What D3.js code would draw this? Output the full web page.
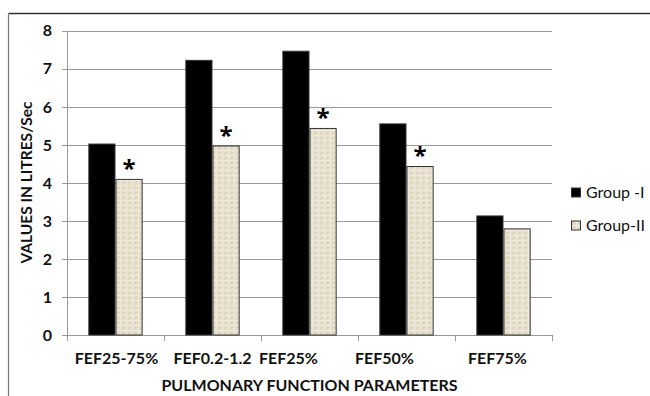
<!DOCTYPE html>
<html><head><meta charset="utf-8">
<script src="https://cdn.jsdelivr.net/npm/d3@7"></script>
<style>body{margin:0;background:#fff}svg{display:block}text{font-family:Lato,"Open Sans",sans-serif;font-weight:700;fill:#111}</style>
</head><body>
<script>
const categories = ["FEF25-75%", "FEF0.2-1.2", "FEF25%", "FEF50%", "FEF75%"];
const groupI = [5.02, 7.22, 7.46, 5.55, 3.13];
const groupII = [4.09, 4.97, 5.43, 4.43, 2.79];
const significant = [true, true, true, true, false];
const seriesNames = ["Group -I", "Group-II"];
const yTicks = [0, 1, 2, 3, 4, 5, 6, 7, 8];

const W = 650, H = 396;
const svg = d3.select("body").append("svg").attr("width", W).attr("height", H);

const defs = svg.append("defs");
const pat = defs.append("pattern").attr("id", "tex").attr("patternUnits", "userSpaceOnUse")
  .attr("width", 6).attr("height", 5);
pat.append("rect").attr("width", 6).attr("height", 5).attr("fill", "#e6dfcb");
pat.append("rect").attr("x", 0).attr("y", 0).attr("width", 6).attr("height", 1).attr("fill", "#efe9dc");
pat.append("rect").attr("x", 0).attr("y", 0).attr("width", 1).attr("height", 5).attr("fill", "#efe9dc");
pat.append("rect").attr("x", 3).attr("y", 2).attr("width", 2).attr("height", 1).attr("fill", "#d6ccb3");
pat.append("rect").attr("x", 2).attr("y", 3).attr("width", 1).attr("height", 2).attr("fill", "#dbd2bb");

// outer frame
svg.append("line").attr("x1", 8.5).attr("x2", W).attr("y1", 13.5).attr("y2", 13.5).attr("stroke", "#333").attr("stroke-width", 1.5);
svg.append("line").attr("x1", 8.5).attr("x2", 8.5).attr("y1", 13.5).attr("y2", H).attr("stroke", "#777").attr("stroke-width", 1.2);

const m = {left: 67, right: 552, top: 30.7, bottom: 335};
const x = d3.scaleBand().domain(categories).range([m.left, m.right]).paddingInner(0.44).paddingOuter(0.22);
const xs = d3.scaleBand().domain([0, 1]).range([0, x.bandwidth()]);
const y = d3.scaleLinear().domain([0, 8]).range([m.bottom, m.top]);

// gridlines
svg.selectAll("line.grid").data(yTicks).join("line")
  .attr("x1", m.left - 5).attr("x2", m.right)
  .attr("y1", d => Math.round(y(d)) + 0.5).attr("y2", d => Math.round(y(d)) + 0.5)
  .attr("stroke", "#9a9a9a").attr("stroke-width", 1);
// y axis line
svg.append("line").attr("x1", m.left + 0.5).attr("x2", m.left + 0.5).attr("y1", m.top).attr("y2", m.bottom)
  .attr("stroke", "#9a9a9a");
// x tick marks
const bounds = categories.map(c => x(c) - x.step() * x.paddingInner() / 2).concat([m.right]);
bounds[0] = m.left;
svg.selectAll("line.xt").data(bounds).join("line")
  .attr("x1", d => Math.round(d) + 0.5).attr("x2", d => Math.round(d) + 0.5)
  .attr("y1", m.bottom).attr("y2", m.bottom + 6).attr("stroke", "#9a9a9a");

// y labels
svg.selectAll("text.yl").data(yTicks).join("text")
  .attr("x", 52).attr("y", d => y(d)).attr("dy", "0.36em").attr("text-anchor", "end")
  .attr("font-size", 16).text(d => d);

// bars
const series = [groupI, groupII];
const fills = ["#000", "url(#tex)"];
series.forEach((vals, si) => {
  svg.selectAll("rect.s" + si).data(vals).join("rect")
    .attr("x", (d, i) => x(categories[i]) + xs(si) + 0.5)
    .attr("y", d => y(d))
    .attr("width", xs.bandwidth() - 1)
    .attr("height", d => y(0) - y(d))
    .attr("fill", fills[si]).attr("stroke", "#333").attr("stroke-width", 1);
});
// asterisks
svg.selectAll("text.star").data(groupII.map((d, i) => ({d, i})).filter(o => significant[o.i])).join("text")
  .attr("x", o => x(categories[o.i]) + xs(1) + xs.bandwidth() / 2)
  .attr("y", o => y(o.d) - 2)
  .attr("text-anchor", "middle").attr("font-size", 24)
  .style("font-family", "'Open Sans',sans-serif").style("fill", "#000").text("*");

// x labels (original labels are slightly off-centre)
const labelShift = [1, 0, -21, -22, -6];
svg.selectAll("text.xl").data(categories).join("text")
  .attr("x", (d, i) => x(d) + x.bandwidth() / 2 + labelShift[i]).attr("y", 364)
  .attr("text-anchor", "middle").attr("font-size", 16).text(d => d);

// axis titles
svg.append("text").attr("x", (m.left + m.right) / 2).attr("y", 391).attr("text-anchor", "middle")
  .attr("font-size", 16).text("PULMONARY FUNCTION PARAMETERS");
svg.append("text").attr("transform", "translate(32,182.5) rotate(-90)").attr("text-anchor", "middle")
  .attr("font-size", 15.5).text("VALUES IN LITRES/Sec");

// legend
const lg = svg.append("g");
seriesNames.forEach((n, i) => {
  const ly = 192.5 + i * 33;
  lg.append("rect").attr("x", 571.5).attr("y", ly - 4.5).attr("width", 9).attr("height", 9)
    .attr("fill", fills[i]).attr("stroke", "#333");
  lg.append("text").attr("x", 586).attr("y", ly).attr("dy", "0.36em").attr("font-size", 16)
    .style("font-weight", 400).text(n);
});
</script>
</body></html>
